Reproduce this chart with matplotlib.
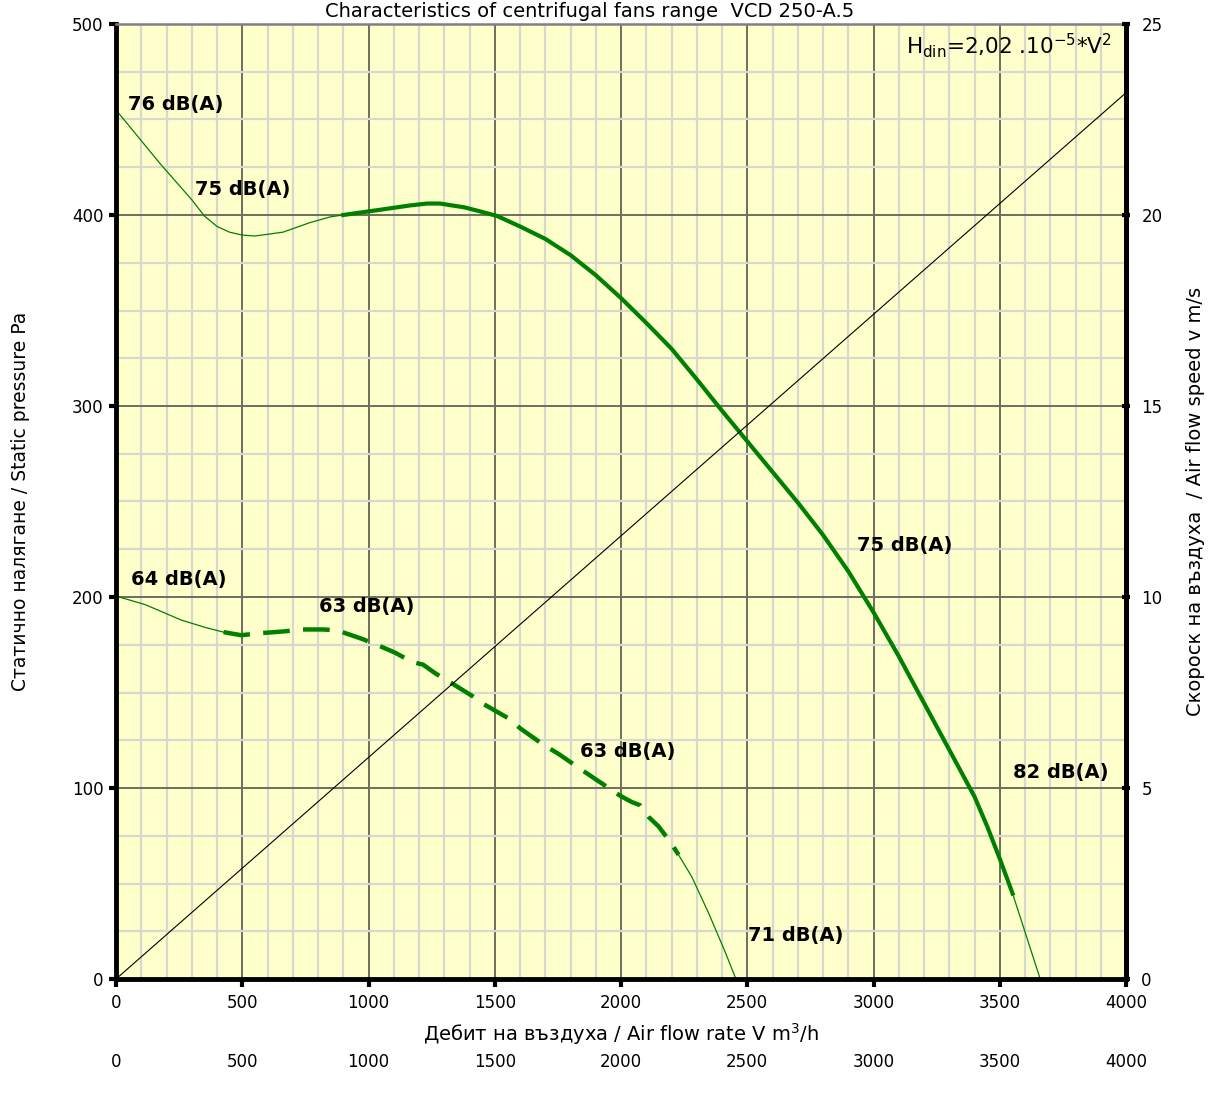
import matplotlib
matplotlib.use('Agg')
import matplotlib.pyplot as plt
from matplotlib.ticker import MultipleLocator

# data
# 76 dB curve, thin part (left)
hi_thin_x = [0, 174, 300, 350, 400, 450, 500, 550, 661, 768, 848, 900]
hi_thin_y = [455, 427, 408, 399.5, 394, 391, 389.5, 389, 391, 396, 399, 400]
# working range (thick)
hi_x = [900, 1060, 1164, 1232, 1283, 1380, 1453, 1509, 1600, 1700, 1800, 1900, 2000, 2100, 2200, 2300,
        2400, 2500, 2600, 2700, 2800, 2900, 3000, 3100, 3200, 3300, 3400, 3450, 3500, 3551]
hi_y = [400, 403, 405, 406, 406, 404, 401.5, 399.5, 394, 387.5, 379, 368.5, 356.5, 343.5, 330, 314,
        297.5, 281.5, 265.5, 249.5, 232.5, 213.5, 192, 169, 144.5, 120, 95.5, 80, 63, 44.7]
# tail (thin)
hi_tail_x = [3551, 3670]
hi_tail_y = [44.7, -4]

# 64 dB curve, thin head
lo_thin_x = [0, 116, 257, 355, 426]
lo_thin_y = [200.5, 196, 188, 184, 181.6]
# dashed working range
lo_x = [426, 496, 567, 666, 736, 821, 877, 976, 1032, 1103, 1173, 1216, 1265, 1328, 1413, 1455, 1554,
        1603, 1694, 1751, 1850, 1906, 1996, 2042, 2075, 2108, 2148, 2194, 2228]
lo_y = [181.6, 180, 181, 182, 183, 183, 182.5, 178, 175, 171, 166, 164.6, 160, 155, 148, 144, 136.5,
        131, 122.5, 118, 109, 104, 96, 92.7, 91, 85, 80, 72, 65]
lo_tail_x = [2228, 2280, 2347, 2413, 2466]
lo_tail_y = [65, 53.6, 34.5, 14, -3.6]

# air velocity line (right axis, m/s)
vel_x = [0, 4000]
vel_y = [0, 23.2]

# noise labels: text, x, y (left edge, vertical centre)
noise_labels = ['76 dB(A)', '75 dB(A)', '75 dB(A)', '82 dB(A)', '64 dB(A)', '63 dB(A)', '63 dB(A)', '71 dB(A)']
noise_x = [48, 313, 2935, 3552, 59, 804, 1838, 2503]
noise_y = [458, 413.6, 227, 108, 209, 195, 119, 23]

green = '#008000'

fig = plt.figure(figsize=(12.08, 10.99), dpi=100)
ax = fig.add_axes([116 / 1208, 1 - 979 / 1099, 1010 / 1208, 955 / 1099])
ax.set_facecolor('#ffffcc')

ax.set_xlim(0, 4000)
ax.set_ylim(0, 500)
ax.xaxis.set_major_locator(MultipleLocator(500))
ax.xaxis.set_minor_locator(MultipleLocator(100))
ax.yaxis.set_major_locator(MultipleLocator(100))
ax.yaxis.set_minor_locator(MultipleLocator(25))
ax.grid(which='minor', color='#d8d8cc', linewidth=1.6, zorder=0)
ax.grid(which='major', color='#6e6e5e', linewidth=1.4, zorder=0)
ax.set_axisbelow(True)

# the curves
ax.plot(hi_thin_x, hi_thin_y, color=green, lw=0.9)
ax.plot(hi_x, hi_y, color=green, lw=3)
ax.plot(hi_tail_x, hi_tail_y, color=green, lw=0.9)
ax.plot(lo_thin_x, lo_thin_y, color=green, lw=0.9)
ax.plot(lo_x, lo_y, color=green, lw=3.2, dashes=(6, 3))
ax.plot(lo_tail_x, lo_tail_y, color=green, lw=0.9)

for t, x, y in zip(noise_labels, noise_x, noise_y):
    ax.text(x, y, t, fontsize=14, fontweight='bold', va='center', ha='left', color='black')

ax.text(0.986, 0.992, r'H$_{\rm din}$=2,02 .10$^{-5}$*V$^{2}$', transform=ax.transAxes,
        fontsize=15.5, ha='right', va='top')

# spines
for s in ['left', 'right', 'bottom']:
    ax.spines[s].set_linewidth(3.5)
    ax.spines[s].set_color('black')
ax.spines['top'].set_color('#808080')
ax.spines['top'].set_linewidth(1.8)

ax.tick_params(which='minor', length=0)
ax.tick_params(axis='y', which='major', length=5, width=3, labelsize=12, pad=4)
ax.tick_params(axis='x', which='major', length=6, width=3, labelsize=12, pad=5)

ax.set_xlabel('Дебит на въздуха / Air flow rate V m$^3$/h', fontsize=14, labelpad=6)
ax.set_ylabel('Статично налягане / Static pressure Pa', fontsize=13.5, labelpad=30)

# right axis with the air speed
ax2 = ax.twinx()
ax2.set_ylim(0, 25)
ax2.yaxis.set_major_locator(MultipleLocator(5))
ax2.plot(vel_x, vel_y, color='black', lw=0.8)
ax2.tick_params(axis='y', length=6, width=3, direction='inout', labelsize=12, pad=8)
ax2.set_ylabel('Скороск на въздуха  / Air flow speed v m/s', fontsize=14, labelpad=17)
for s in ax2.spines.values():
    s.set_visible(False)
ax2.spines['right'].set_visible(True)
ax2.spines['right'].set_linewidth(3.5)

# second row of flow labels under the x label
sec = ax.secondary_xaxis(-0.072)
sec.set_xticks(range(0, 4001, 500))
sec.tick_params(length=0, labelsize=12)
sec.spines['bottom'].set_visible(False)

fig.text(590 / 1208, 1 - 17 / 1099, 'Characteristics of centrifugal fans range  VCD 250-A.5',
         fontsize=14, ha='center', va='baseline')

plt.savefig('out.png', dpi=100)
